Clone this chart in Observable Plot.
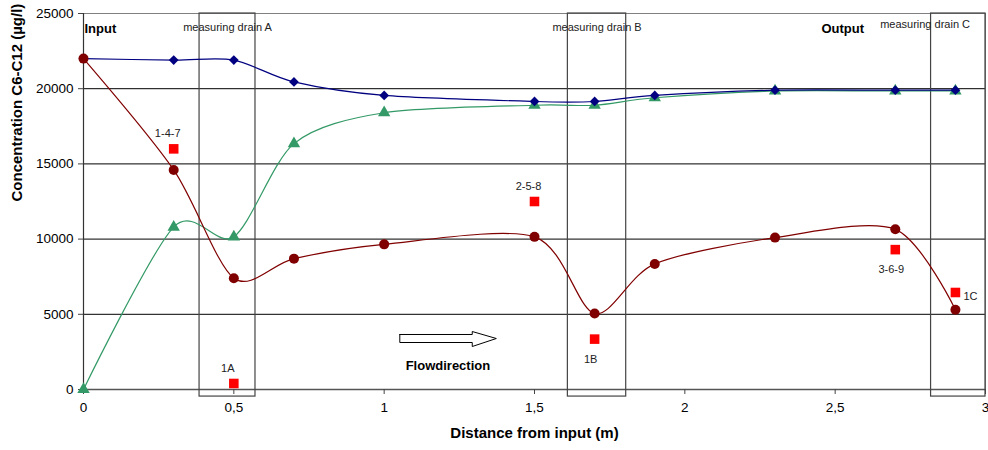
<!DOCTYPE html>
<html>
<head>
<meta charset="utf-8">
<script src="https://cdn.jsdelivr.net/npm/d3@7"></script>
<script src="https://cdn.jsdelivr.net/npm/@observablehq/plot@0.6"></script>
<style>
  html, body { margin: 0; padding: 0; background: #fff; }
  #chart svg { display: block; }
</style>
</head>
<body>
<div id="chart"></div>
<script>
// ---- data ----
const distances = [0, 0.3, 0.5, 0.7, 1.0, 1.5, 1.7, 1.9, 2.3, 2.7, 2.9];
const blueValues = [22000, 21900, 21900, 20450, 19550, 19150, 19150, 19550, 19900, 19900, 19900];
const greenValues = [0, 10800, 10150, 16350, 18400, 18900, 18900, 19400, 19850, 19850, 19850];
const redValues = [22000, 14600, 7400, 8700, 9650, 10150, 5050, 8350, 10100, 10650, 5300];

const sampleX = [0.3, 0.5, 1.5, 1.7, 2.7, 2.9];
const sampleY = [16000, 400, 12500, 3350, 9300, 6450];
const sampleLabels = ["1-4-7", "1A", "2-5-8", "1B", "3-6-9", "1C"];

const drainNames = ["measuring drain A", "measuring drain B", "measuring drain C"];
const drainStart = [0.386, 1.611, 2.819];
const drainEnd = [0.572, 1.805, 3.0];

const xTicks = [0, 0.5, 1, 1.5, 2, 2.5, 3];
const yTicks = [0, 5000, 10000, 15000, 20000, 25000];

// flow arrow outline (data coordinates)
const arrowX = [1.052, 1.293, 1.293, 1.373, 1.293, 1.293, 1.052, 1.052];
const arrowY = [3657, 3657, 3856, 3390, 2859, 3125, 3125, 3657];

// ---- tables ----
const series = (vals) => distances.map((x, i) => ({x, y: vals[i]}));
const blue = series(blueValues);
const green = series(greenValues);
const red = series(redValues);
const samples = sampleX.map((x, i) => ({x, y: sampleY[i], label: sampleLabels[i]}));
const drains = drainNames.map((name, i) => ({name, x1: drainStart[i], x2: drainEnd[i]}));
const arrow = arrowX.map((x, i) => ({x, y: arrowY[i]}));

const comma = d => String(d).replace(".", ",");
const plain = d => String(d);
const FONT = "Liberation Sans, Arial, sans-serif";
const CURVE = {curve: "cardinal", tension: 0.15};

const plot = Plot.plot({
  width: 988,
  height: 450,
  marginLeft: 83,
  marginRight: 3,
  marginTop: 13,
  marginBottom: 61,
  style: {fontFamily: FONT, fontSize: "12px", color: "#000", background: "#fff"},
  x: {domain: [0, 3], ticks: xTicks, tickFormat: comma},
  y: {domain: [0, 25000], ticks: yTicks, tickFormat: plain},
  marks: [
    Plot.ruleY([5000, 10000, 15000, 20000], {stroke: "#000", strokeWidth: 1}),
    Plot.frame({stroke: "#808080", strokeWidth: 1}),
    Plot.ruleY([0], {stroke: "#555", strokeWidth: 1.5}),
    Plot.ruleX([0], {stroke: "#333", strokeWidth: 1.2}),
    Plot.axisX({ticks: xTicks, tickFormat: comma, tickSize: 5, tickPadding: 8, label: null, fontSize: 13.5, stroke: "#444"}),
    Plot.axisY({ticks: yTicks, tickFormat: plain, tickSize: 5, tickPadding: 5, label: null, fontSize: 13.5, stroke: "#444"}),
    Plot.rect(drains, {x1: "x1", x2: "x2", y1: -470, y2: 25000, fill: "none", stroke: "#444", strokeWidth: 1.2}),
    // drain labels
    Plot.text(drains.slice(0, 2), {x: d => (d.x1 + d.x2) / 2, frameAnchor: "top", dy: 10, text: "name", fontSize: 11, fill: "#222"}),
    Plot.text(drains.slice(2), {x: d => d.x1 - 0.02, frameAnchor: "top", dy: 7, text: "name", fontSize: 11, fill: "#222"}),
    Plot.text(["Input"], {x: 0, frameAnchor: "top", dy: 10, textAnchor: "start", dx: 1, fontSize: 13, fontWeight: "bold"}),
    Plot.text(["Output"], {x: 2.525, frameAnchor: "top", dy: 10, fontSize: 13, fontWeight: "bold"}),
    // lines
    Plot.line(green, {x: "x", y: "y", stroke: "#339966", strokeWidth: 1.2, ...CURVE}),
    Plot.dot(green, {x: "x", y: "y", symbol: "triangle", r: 4.6, fill: "#339966", stroke: "none"}),
    Plot.line(blue, {x: "x", y: "y", stroke: "#000080", strokeWidth: 1.2, ...CURVE}),
    Plot.dot(blue, {x: "x", y: "y", symbol: "diamond2", r: 4.4, fill: "#000080", stroke: "none"}),
    Plot.line(red, {x: "x", y: "y", stroke: "#800000", strokeWidth: 1.2, ...CURVE}),
    Plot.dot(red, {x: "x", y: "y", r: 5, fill: "#800000", stroke: "none"}),
    // samples
    Plot.dot(samples, {x: "x", y: "y", symbol: "square", r: 5.4, fill: "#ff0000", stroke: "none"}),
    Plot.text(samples.slice(0, 3), {x: "x", y: "y", text: "label", dx: -6, dy: -15, fontSize: 11, fill: "#222"}),
    Plot.text(samples.slice(3, 5), {x: "x", y: "y", text: "label", dx: -4, dy: 20, fontSize: 11, fill: "#222"}),
    Plot.text(samples.slice(5), {x: "x", y: "y", text: "label", dx: 8, dy: 4, textAnchor: "start", fontSize: 11, fill: "#222"}),
    // flow arrow
    Plot.line(arrow, {x: "x", y: "y", stroke: "#000", strokeWidth: 1, fill: "#fff", curve: "linear"}),
    Plot.text(["Flowdirection"], {x: 1.212, y: 1600, fontSize: 13, fontWeight: "bold"}),
    // axis titles
    Plot.text(["Concentration C6-C12 (µg/l)"], {frameAnchor: "left", dx: -66, rotate: -90, fontSize: 15, fontWeight: "bold"}),
    Plot.text(["Distance from input (m)"], {frameAnchor: "bottom", dy: 48, fontSize: 15, fontWeight: "bold"})
  ]
});
document.getElementById("chart").appendChild(plot);
</script>
</body>
</html>
